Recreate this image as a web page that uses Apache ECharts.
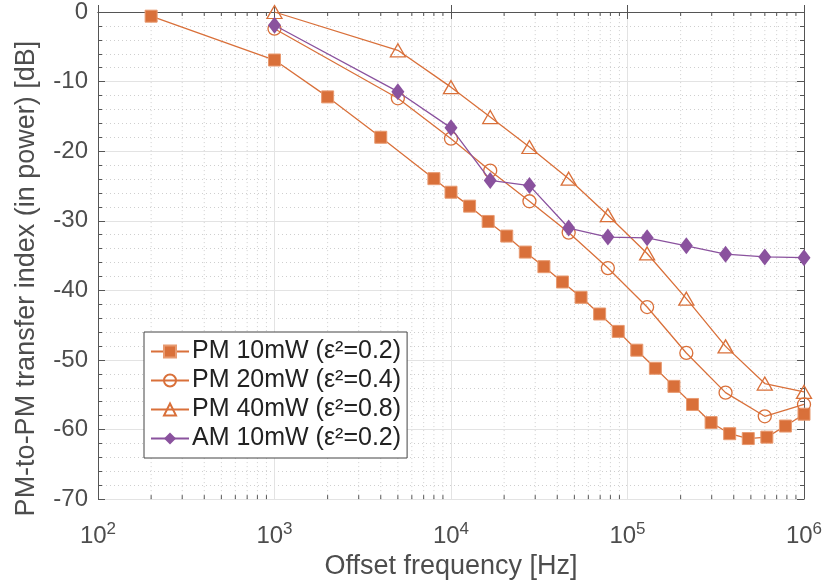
<!DOCTYPE html>
<html>
<head>
<meta charset="utf-8">
<script src="https://cdn.jsdelivr.net/npm/echarts@6/dist/echarts.min.js"></script>
<style>html,body{margin:0;padding:0;background:#fff}#c{width:827px;height:585px}</style>
</head>
<body>
<div id="c"></div>
<script>
// ---- data ----
var freqPM10 = [200, 1000, 2000, 4000, 8000, 10000, 12743, 16238, 20691, 26367, 33598, 42813, 54556, 69519, 88587, 112884, 143845, 183298, 233572, 297635, 379269, 483293, 615848, 784760, 1000000];
var valPM10 = [-0.6, -6.9, -12.2, -18.0, -23.95, -25.9, -27.9, -30.1, -32.2, -34.5, -36.6, -38.8, -41.0, -43.4, -45.9, -48.6, -51.2, -53.8, -56.4, -59.0, -60.6, -61.3, -61.1, -59.5, -57.8];
var freqB = [1000, 5000, 10000, 16681, 27826, 46416, 77426, 129155, 215443, 359381, 599484, 1000000];
var valPM20 = [-2.4, -12.4, -18.2, -22.8, -27.2, -31.7, -36.8, -42.4, -49.0, -54.7, -58.1, -56.4];
var valPM40 = [0, -5.5, -10.8, -15.1, -19.4, -23.95, -29.2, -34.7, -41.2, -48.05, -53.4, -54.6];
var valAM10 = [-1.9, -11.45, -16.65, -24.2, -24.95, -31.05, -32.35, -32.45, -33.6, -34.8, -35.2, -35.3];
var seriesNames = ['PM 10mW (ε²=0.2)', 'PM 20mW (ε²=0.4)', 'PM 40mW (ε²=0.8)', 'AM 10mW (ε²=0.2)'];
var yTicks = [0, -10, -20, -30, -40, -50, -60, -70];
var xMin = 100, xMax = 1000000, yMin = -70, yMax = 0;

var ORANGE = '#D9703A', PURPLE = '#8A529E', TXT = '#4D4D4D', AX = '#555';
var FONT = "'Liberation Sans', Arial, sans-serif";

function pairs(xs, ys) { return xs.map(function (x, i) { return [x, ys[i]]; }); }

// minor decade positions (grid decoration, not data)
var minorX = [];
for (var e = 2; e < 6; e++) for (var m = 2; m <= 9; m++) minorX.push([m * Math.pow(10, e), yMin]);

var chart = echarts.init(document.getElementById('c'), null, {renderer: 'canvas'});

var option = {
  animation: false,
  backgroundColor: '#fff',
  textStyle: {fontFamily: FONT},
  grid: {left: 98, right: 23, top: 11, bottom: 85},
  legend: {
    data: seriesNames,
    orient: 'vertical',
    left: 144, top: 332,
    backgroundColor: '#fff',
    borderColor: '#444', borderWidth: 1,
    padding: [7, 6, 7, 6],
    itemWidth: 38, itemHeight: 15, itemGap: 4,
    textStyle: {fontSize: 25, color: '#222', fontFamily: FONT, padding: [0, 0, 0, -2]}
  },
  xAxis: [{
    type: 'log', logBase: 10, min: xMin, max: xMax,
    name: 'Offset frequency [Hz]', nameLocation: 'middle', nameGap: 52,
    nameTextStyle: {fontSize: 27, color: TXT, fontFamily: FONT},
    axisLine: {show: true, lineStyle: {color: AX, width: 1}},
    axisTick: {show: true, inside: true, length: 7, lineStyle: {color: AX}},
    splitLine: {show: true, lineStyle: {color: '#e3e3e3', width: 1}},
    axisLabel: {
      margin: 22,
      formatter: function (v) { return '{b|10}{s|' + Math.round(Math.log10(v)) + '}'; },
      rich: {
        b: {fontSize: 24, color: TXT, fontFamily: FONT, verticalAlign: 'bottom'},
        s: {fontSize: 17, color: TXT, fontFamily: FONT, verticalAlign: 'top', padding: [0, 0, 10, 0]}
      }
    }
  }, {
    type: 'log', logBase: 10, min: xMin, max: xMax, position: 'top',
    axisLine: {show: true, lineStyle: {color: AX, width: 1}},
    axisTick: {show: true, inside: true, length: 7, lineStyle: {color: AX}},
    axisLabel: {show: false}, splitLine: {show: false}
  }],
  yAxis: [{
    type: 'value', min: yMin, max: yMax, interval: 10,
    name: 'PM-to-PM transfer index (in power) [dB]', nameLocation: 'middle', nameGap: 58,
    nameTextStyle: {fontSize: 27, color: TXT, fontFamily: FONT, padding: [0, 46, 0, 0]},
    axisLine: {show: true, lineStyle: {color: AX, width: 1}},
    axisTick: {show: true, inside: true, length: 7, lineStyle: {color: AX}},
    minorTick: {show: true, splitNumber: 5, length: 4, lineStyle: {color: AX}},
    splitLine: {show: true, lineStyle: {color: '#e3e3e3', width: 1}},
    minorSplitLine: {show: true, lineStyle: {color: '#cfcfcf', type: [1, 3], width: 1}},
    axisLabel: {margin: 10, fontSize: 24, color: TXT, fontFamily: FONT,
      customValues: yTicks, formatter: function (v) { return String(v); }}
  }, {
    type: 'value', min: yMin, max: yMax, interval: 10, position: 'right',
    axisLine: {show: true, lineStyle: {color: AX, width: 1}},
    axisTick: {show: true, inside: true, length: 7, lineStyle: {color: AX}},
    minorTick: {show: true, splitNumber: 5, length: 4, lineStyle: {color: AX}},
    axisLabel: {show: false}, splitLine: {show: false}
  }],
  series: [
    {
      type: 'custom', name: 'minor', xAxisIndex: 0, yAxisIndex: 0, silent: true, z: 0,
      data: minorX, encode: {x: 0, y: 1},
      renderItem: function (params, api) {
        var x = api.value(0);
        var p1 = api.coord([x, yMin]);
        var p2 = api.coord([x, yMax]);
        return {type: 'group', children: [
          {type: 'line', shape: {x1: p1[0], y1: p1[1], x2: p2[0], y2: p2[1]},
            style: {stroke: '#cfcfcf', lineWidth: 1, lineDash: [1, 3]}},
          {type: 'line', shape: {x1: p1[0], y1: p1[1], x2: p1[0], y2: p1[1] - 4},
            style: {stroke: AX, lineWidth: 1}},
          {type: 'line', shape: {x1: p2[0], y1: p2[1], x2: p2[0], y2: p2[1] + 4},
            style: {stroke: AX, lineWidth: 1}}
        ]};
      }
    },
    {
      name: seriesNames[0], type: 'line', data: pairs(freqPM10, valPM10), z: 3,
      symbol: 'rect', symbolSize: 12,
      lineStyle: {color: ORANGE, width: 1.3},
      itemStyle: {color: ORANGE, borderColor: '#E89A70', borderWidth: 1}
    },
    {
      name: seriesNames[1], type: 'line', data: pairs(freqB, valPM20), z: 3,
      symbol: 'circle', symbolSize: 13,
      lineStyle: {color: ORANGE, width: 1.3},
      itemStyle: {color: 'rgba(255,255,255,0)', borderColor: ORANGE, borderWidth: 1.3}
    },
    {
      name: seriesNames[2], type: 'line', data: pairs(freqB, valPM40), z: 3,
      symbol: 'triangle', symbolSize: [15, 13],
      lineStyle: {color: ORANGE, width: 1.3},
      itemStyle: {color: 'rgba(255,255,255,0)', borderColor: ORANGE, borderWidth: 1.3}
    },
    {
      name: seriesNames[3], type: 'line', data: pairs(freqB, valAM10), z: 4,
      symbol: 'diamond', symbolSize: [13, 17],
      lineStyle: {color: PURPLE, width: 1.3},
      itemStyle: {color: PURPLE}
    }
  ]
};
chart.setOption(option);
</script>
</body>
</html>
